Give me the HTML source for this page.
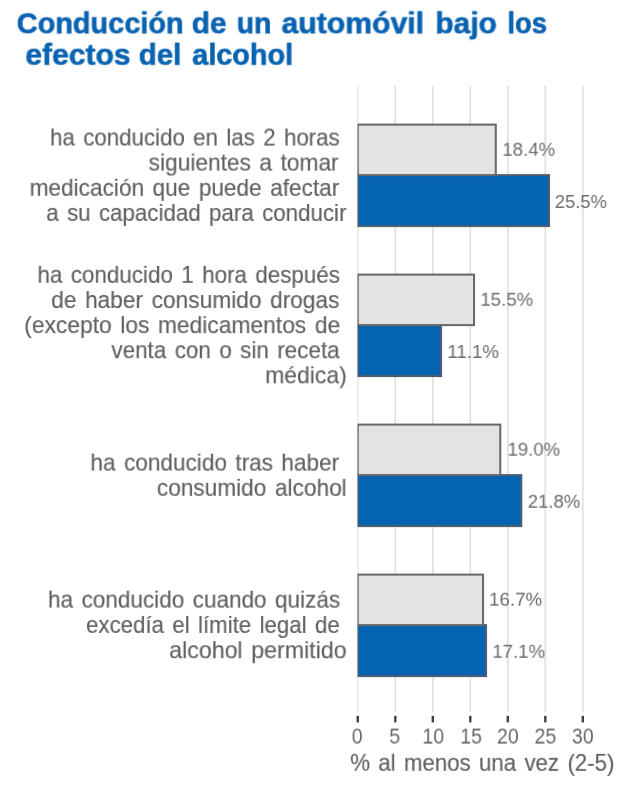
<!DOCTYPE html>
<html><head><meta charset="utf-8">
<style>
html,body{margin:0;padding:0;background:#fff;}
body{width:620px;height:791px;position:relative;overflow:hidden;font-family:"Liberation Sans",sans-serif;}
svg{position:absolute;left:0;top:0;}
.t,.l,.v,.x,.a{position:absolute;left:0;top:0;white-space:nowrap;transform-origin:0 0;line-height:1;will-change:transform;}
.t{color:#0a63b1;font-weight:bold;-webkit-text-stroke:0.6px #0a63b1;font-size:29.0px;}
.l{word-spacing:2.3px;color:#606060;-webkit-text-stroke:0.15px #606060;font-size:23.8px;}
.v{color:#6c6c6c;font-size:18.3px;}
.x{color:#666666;font-size:21.4px;}
.a{word-spacing:2.3px;color:#606060;-webkit-text-stroke:0.15px #606060;font-size:23.8px;}
body{filter:blur(0.4px);}
</style></head><body>
<svg width="620" height="791" viewBox="0 0 620 791">
<line x1="357.80" y1="85.5" x2="357.80" y2="712" stroke="#ececec" stroke-width="1.7"/>
<line x1="395.30" y1="85.5" x2="395.30" y2="712" stroke="#e0e0e0" stroke-width="1.7"/>
<line x1="432.80" y1="85.5" x2="432.80" y2="712" stroke="#e0e0e0" stroke-width="1.7"/>
<line x1="470.30" y1="85.5" x2="470.30" y2="712" stroke="#e0e0e0" stroke-width="1.7"/>
<line x1="507.80" y1="85.5" x2="507.80" y2="712" stroke="#e0e0e0" stroke-width="1.7"/>
<line x1="545.30" y1="85.5" x2="545.30" y2="712" stroke="#e0e0e0" stroke-width="1.7"/>
<line x1="582.80" y1="85.5" x2="582.80" y2="712" stroke="#e0e0e0" stroke-width="1.7"/>
<clipPath id="c"><rect x="357.5" y="0" width="300" height="791"/></clipPath><g clip-path="url(#c)" stroke="#676767" stroke-width="2">
<rect x="357.80" y="175.10" width="191.25" height="51" fill="#0563b3" stroke="#4e5e70"/>
<rect x="357.80" y="124.60" width="138.00" height="50.5" fill="#e3e3e3"/>
<rect x="357.80" y="325.10" width="83.25" height="51" fill="#0563b3" stroke="#4e5e70"/>
<rect x="357.80" y="274.60" width="116.25" height="50.5" fill="#e3e3e3"/>
<rect x="357.80" y="475.10" width="163.50" height="51" fill="#0563b3" stroke="#4e5e70"/>
<rect x="357.80" y="424.60" width="142.50" height="50.5" fill="#e3e3e3"/>
<rect x="357.80" y="625.10" width="128.25" height="51" fill="#0563b3" stroke="#4e5e70"/>
<rect x="357.80" y="574.60" width="125.25" height="50.5" fill="#e3e3e3"/>
</g>
<line x1="357.80" y1="715.8" x2="357.80" y2="722.4" stroke="#404040" stroke-width="2.4"/>
<line x1="395.30" y1="715.8" x2="395.30" y2="722.4" stroke="#404040" stroke-width="2.4"/>
<line x1="432.80" y1="715.8" x2="432.80" y2="722.4" stroke="#404040" stroke-width="2.4"/>
<line x1="470.30" y1="715.8" x2="470.30" y2="722.4" stroke="#404040" stroke-width="2.4"/>
<line x1="507.80" y1="715.8" x2="507.80" y2="722.4" stroke="#404040" stroke-width="2.4"/>
<line x1="545.30" y1="715.8" x2="545.30" y2="722.4" stroke="#404040" stroke-width="2.4"/>
<line x1="582.80" y1="715.8" x2="582.80" y2="722.4" stroke="#404040" stroke-width="2.4"/>
</svg>
<div class="t" style="transform:translate(16.80px,9.32px) rotate(0.02deg) scaleX(0.9964)">Conducción</div>
<div class="t" style="transform:translate(191.75px,9.31px) rotate(0.02deg) scaleX(1.0264)">de</div>
<div class="t" style="transform:translate(236.82px,9.32px) rotate(0.02deg) scaleX(0.9760)">un</div>
<div class="t" style="transform:translate(281.60px,9.31px) rotate(0.02deg) scaleX(1.0397)">automóvil</div>
<div class="t" style="transform:translate(435.36px,9.32px) rotate(0.02deg) scaleX(1.0312)">bajo</div>
<div class="t" style="transform:translate(507.43px,9.32px) rotate(0.02deg) scaleX(0.9460)">los</div>
<div class="t" style="transform:translate(25.36px,40.75px) rotate(0.02deg) scaleX(1.0360)">efectos</div>
<div class="t" style="transform:translate(138.78px,40.76px) rotate(0.02deg) scaleX(1.0150)">del</div>
<div class="t" style="transform:translate(192.19px,40.76px) rotate(0.02deg) scaleX(0.9942)">alcohol</div>
<div class="l" style="transform:translate(50.06px,125.49px) rotate(0.02deg) scaleX(0.9368)">ha conducido en las 2 horas</div>
<div class="l" style="transform:translate(148.64px,150.59px) rotate(0.02deg) scaleX(0.9546)">siguientes a tomar</div>
<div class="l" style="transform:translate(29.65px,175.80px) rotate(0.02deg) scaleX(0.9508)">medicación que puede afectar</div>
<div class="l" style="transform:translate(46.26px,200.89px) rotate(0.02deg) scaleX(0.9379)">a su capacidad para conducir</div>
<div class="l" style="transform:translate(37.46px,262.80px) rotate(0.02deg) scaleX(0.9413)">ha conducido 1 hora después</div>
<div class="l" style="transform:translate(51.24px,288.01px) rotate(0.02deg) scaleX(0.9547)">de haber consumido drogas</div>
<div class="l" style="transform:translate(24.24px,313.10px) rotate(0.02deg) scaleX(0.9585)">(excepto los medicamentos de</div>
<div class="l" style="transform:translate(111.40px,338.20px) rotate(0.02deg) scaleX(0.9430)">venta con o sin receta</div>
<div class="l" style="transform:translate(265.23px,363.30px) rotate(0.02deg) scaleX(0.9640)">médica)</div>
<div class="l" style="transform:translate(90.45px,450.60px) rotate(0.02deg) scaleX(0.9487)">ha conducido tras haber</div>
<div class="l" style="transform:translate(156.85px,475.80px) rotate(0.02deg) scaleX(0.9523)">consumido alcohol</div>
<div class="l" style="transform:translate(48.05px,587.60px) rotate(0.02deg) scaleX(0.9466)">ha conducido cuando quizás</div>
<div class="l" style="transform:translate(86.06px,612.90px) rotate(0.02deg) scaleX(0.9354)">excedía el límite legal de</div>
<div class="l" style="transform:translate(169.23px,638.20px) rotate(0.02deg) scaleX(0.9735)">alcohol permitido</div>
<div class="v" style="transform:translate(502.37px,140.80px) rotate(0.02deg) scaleX(1.0204)">18.4%</div>
<div class="v" style="transform:translate(554.78px,193.00px) rotate(0.02deg) scaleX(1.0048)">25.5%</div>
<div class="v" style="transform:translate(480.37px,290.80px) rotate(0.02deg) scaleX(1.0204)">15.5%</div>
<div class="v" style="transform:translate(447.37px,343.00px) rotate(0.02deg) scaleX(1.0247)">11.1%</div>
<div class="v" style="transform:translate(507.58px,440.70px) rotate(0.02deg) scaleX(1.0123)">19.0%</div>
<div class="v" style="transform:translate(527.78px,492.80px) rotate(0.02deg) scaleX(1.0084)">21.8%</div>
<div class="v" style="transform:translate(488.97px,590.69px) rotate(0.02deg) scaleX(1.0281)">16.7%</div>
<div class="v" style="transform:translate(492.39px,642.80px) rotate(0.02deg) scaleX(1.0162)">17.1%</div>
<div class="x" style="transform:translate(351.75px,726.60px) rotate(0.02deg) scaleX(0.9100)">0</div>
<div class="x" style="transform:translate(389.35px,726.60px) rotate(0.02deg) scaleX(0.9100)">5</div>
<div class="x" style="transform:translate(422.40px,726.60px) rotate(0.02deg) scaleX(0.9100)">10</div>
<div class="x" style="transform:translate(460.25px,726.60px) rotate(0.02deg) scaleX(0.9100)">15</div>
<div class="x" style="transform:translate(497.00px,726.60px) rotate(0.02deg) scaleX(0.9100)">20</div>
<div class="x" style="transform:translate(534.55px,726.60px) rotate(0.02deg) scaleX(0.9100)">25</div>
<div class="x" style="transform:translate(571.95px,726.60px) rotate(0.02deg) scaleX(0.9100)">30</div>
<div class="a" style="transform:translate(350.27px,750.80px) rotate(0.02deg) scaleX(0.9345)">% al menos una vez (2-5)</div>
</body></html>
